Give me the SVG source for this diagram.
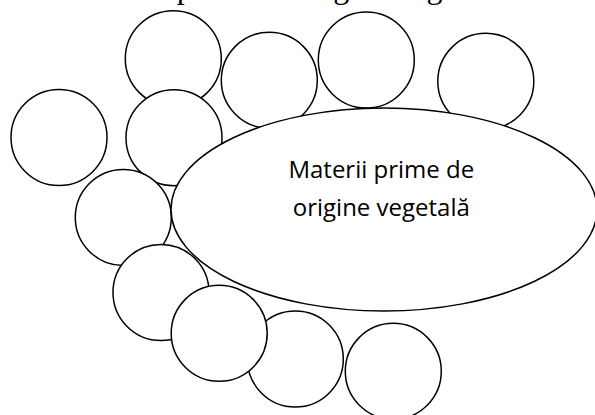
<svg xmlns="http://www.w3.org/2000/svg" width="595" height="415" viewBox="0 0 595 415">
<style>
.c{fill:#fff;stroke:#000;stroke-width:1.5}
.t{font-family:"Open Sans","Liberation Sans",sans-serif;font-size:24px;fill:#000;text-anchor:middle}
.cap{font-family:"Liberation Serif","Times New Roman",serif;font-size:32px;fill:#000}
</style>
<rect width="595" height="415" fill="#fff"/>
<text class="cap" x="74.6" y="-2">Materii prime de origine vegetală</text>
<g id="circle-top-1"><circle class="c" cx="173.3" cy="58.7" r="48"/></g>
<g id="circle-top-2"><circle class="c" cx="269.3" cy="80.3" r="48"/></g>
<g id="circle-top-3"><circle class="c" cx="366.3" cy="60" r="48"/></g>
<g id="circle-top-4"><circle class="c" cx="485.8" cy="81.3" r="48"/></g>
<g id="circle-left"><circle class="c" cx="59" cy="137.5" r="48"/></g>
<g id="circle-mid"><circle class="c" cx="174" cy="137.7" r="48"/></g>
<g id="circle-l1"><circle class="c" cx="123.3" cy="217.5" r="48"/></g>
<g id="circle-l2"><circle class="c" cx="161" cy="292.5" r="48"/></g>
<g id="circle-b2"><circle class="c" cx="295.3" cy="359" r="48"/></g>
<g id="circle-b1"><circle class="c" cx="219.2" cy="333.3" r="48"/></g>
<g id="circle-b3"><circle class="c" cx="393.3" cy="371.3" r="48"/></g>
<g id="main">
<ellipse class="c" cx="384" cy="209.5" rx="213" ry="101.5"/>
<text class="t" x="381.3" y="178.3">Materii prime de</text>
<text class="t" x="381.3" y="216">origine vegetală</text>
</g>
<g id="connectors"/>
</svg>
